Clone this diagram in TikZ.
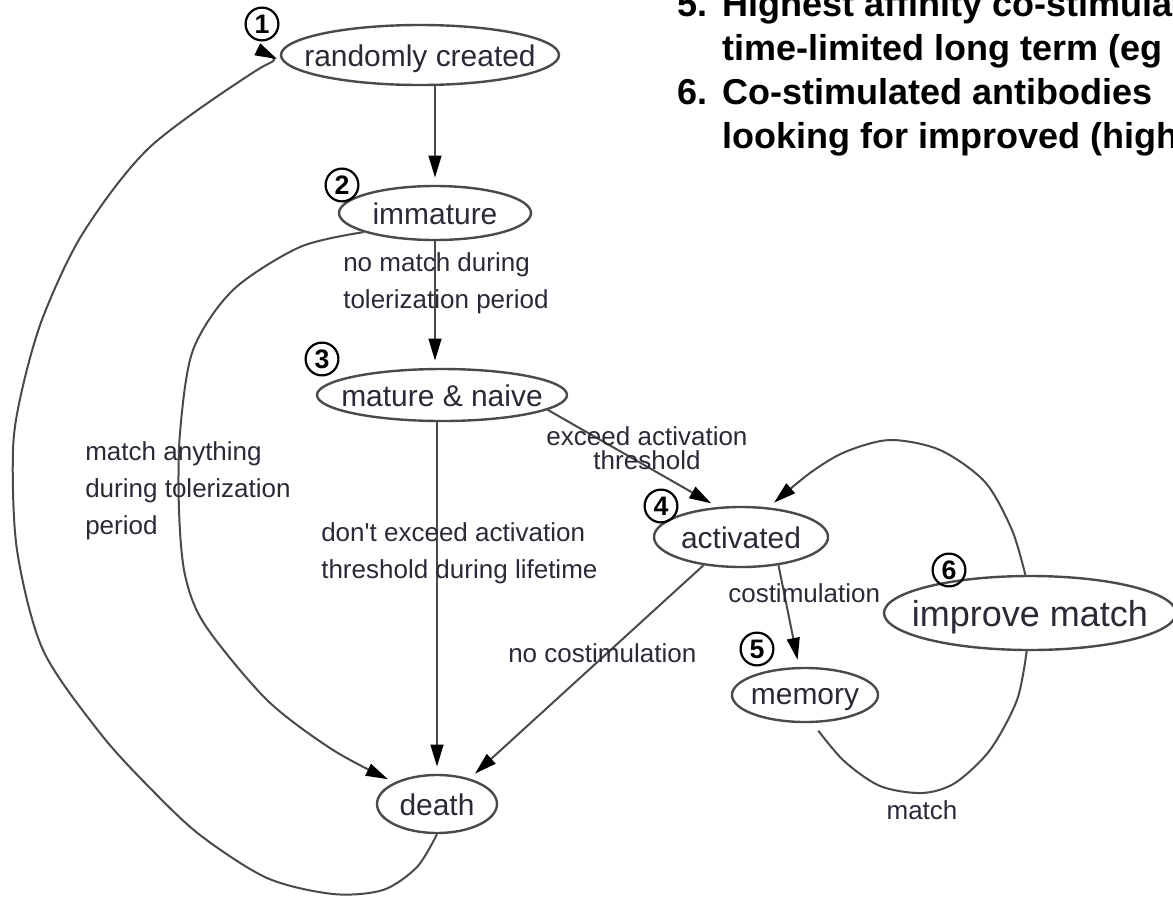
\documentclass[tikz,border=0pt]{standalone}
\usepackage{fontspec}
\setmainfont{Liberation Sans}
\usetikzlibrary{shapes.geometric,arrows.meta}
\definecolor{edgegray}{HTML}{4A4A4A}
\definecolor{inkgray}{HTML}{2A2A36}
% one drawing unit = one pixel of the 1173 x 897 canvas
\newcommand{\pxu}[1]{#1*0.025cm}
% state text set in a zero-width box, so the ellipse keeps its given size
\newcommand{\zw}[1]{\makebox[0pt]{#1}}
\begin{document}
\begin{tikzpicture}[x=0.025cm,y=-0.025cm,
  state/.style={ellipse,draw=edgegray,line width=0.06cm,inner sep=0pt,text=inkgray,
                text height=19pt,text depth=2pt,
                font=\fontsize{21.3pt}{24pt}\selectfont},
  lbl/.style={text=inkgray,font=\fontsize{18.5pt}{26.3pt}\selectfont,inner sep=0pt},
  flow/.style={draw=edgegray,line width=0.05cm,shorten >=0.18cm,
               -{Triangle[length=0.55cm,width=0.32cm,color=black]}},
  plain/.style={draw=edgegray,line width=0.05cm},
  num/.style={circle,draw=black,line width=0.055cm,minimum size=0.82cm,inner sep=0pt,
              font=\bfseries\fontsize{19pt}{19pt}\selectfont},
  note/.style={anchor=base west,inner sep=0pt,font=\bfseries\fontsize{25.6pt}{30pt}\selectfont}
]
\useasboundingbox (0,0) rectangle (1173,897);
\clip (0,0) rectangle (1173,897);

% states
\node[state,minimum width=\pxu{278},minimum height=\pxu{60}] (rc) at (420,55) {\zw{randomly created}};
\node[state,minimum width=\pxu{192},minimum height=\pxu{54}] (im) at (435,213) {\zw{immature}};
\node[state,minimum width=\pxu{250},minimum height=\pxu{52}] (mn) at (442,395) {\zw{mature \& naive}};
\node[state,minimum width=\pxu{174},minimum height=\pxu{60}] (act) at (741,537) {\zw{activated}};
\node[state,minimum width=\pxu{146},minimum height=\pxu{54},
      text height=17pt,text depth=3pt] (mem) at (805,695) {\zw{memory}};
\node[state,minimum width=\pxu{292},minimum height=\pxu{74},text height=22pt,text depth=3pt,
      font=\fontsize{25.6pt}{28pt}\selectfont] (imp) at (1030,613) {\zw{improve match}};
\node[state,minimum width=\pxu{120},minimum height=\pxu{58}] (death) at (437,804) {\zw{death}};

% step numbers
\node[num] (n1) at (262,24) {1};
\node[num] (n2) at (342,185) {2};
\node[num] (n3) at (322,359) {3};
\node[num] (n4) at (661,506) {4};
\node[num] (n5) at (757,649) {5};
\node[num] (n6) at (949,570) {6};

% transitions
\draw[flow] (rc.south -| im.north) -- (im.north);
\draw[flow] (im.south) -- (im.south |- mn.north);
\draw[flow] (mn.south -| death.north) -- (death.north);
\draw[flow] (mn.-8) -- (act.128);
\draw[flow] (act.217) -- (death.38);
\draw[flow] (act.-37) -- (mem.102);
\draw[flow] plot[smooth] coordinates {(imp.97) (1012,530) (985,482) (940,450) (890,440)
                                      (845,452) (810,473) (act.47)};
\draw[plain,shorten >=0.3cm] plot[smooth] coordinates {(imp.-95) (1017,700) (990,750) (955,783)
                                      (922,793) (880,786) (843,760) (mem.-75)};
\draw[flow] plot[smooth] coordinates {(im.195) (300,247) (233,290) (193,350) (180,433)
                                      (179,510) (185,575) (205,625) (267,700) (333,750) (death.153)};
\draw[flow] plot[smooth] coordinates {(death.-90) (417,867) (383,890) (333,894) (267,878)
                                      (200,835) (150,788) (100,733) (43,650) (17,550) (13,450)
                                      (22,390) (43,317) (83,233) (150,147) (257,70) (rc.183)};

% transition labels
\node[lbl,align=left,anchor=west] (t1) at (343,283) {no match during\\tolerization period};
\node[lbl,align=left,anchor=west] (t2) at (85,491) {match anything\\during tolerization\\period};
\node[lbl,align=left,anchor=west] (t3) at (321,553)
     {don\textquotesingle t exceed activation\\threshold during lifetime};
\node[lbl,align=center,font=\fontsize{18.5pt}{17pt}\selectfont] (t4) at (647,448)
     {exceed activation\\threshold};
\node[lbl,anchor=west] (t5) at (728,593) {costimulation};
\node[lbl,anchor=west] (t6) at (508,653) {no costimulation};
\node[lbl] (t7) at (922,810) {match};

% notes at the top right
\node[note] (p5) at (677,16) {5.};
\node[note] (q5a) at (722,16) {Highest affinity co-stimulated};
\node[note] (q5b) at (722,60) {time-limited long term (eg};
\node[note] (p6) at (677,104) {6.};
\node[note] (q6a) at (722,104) {Co-stimulated antibodies};
\node[note] (q6b) at (722,148) {looking for improved (higher)};
\end{tikzpicture}
\end{document}
